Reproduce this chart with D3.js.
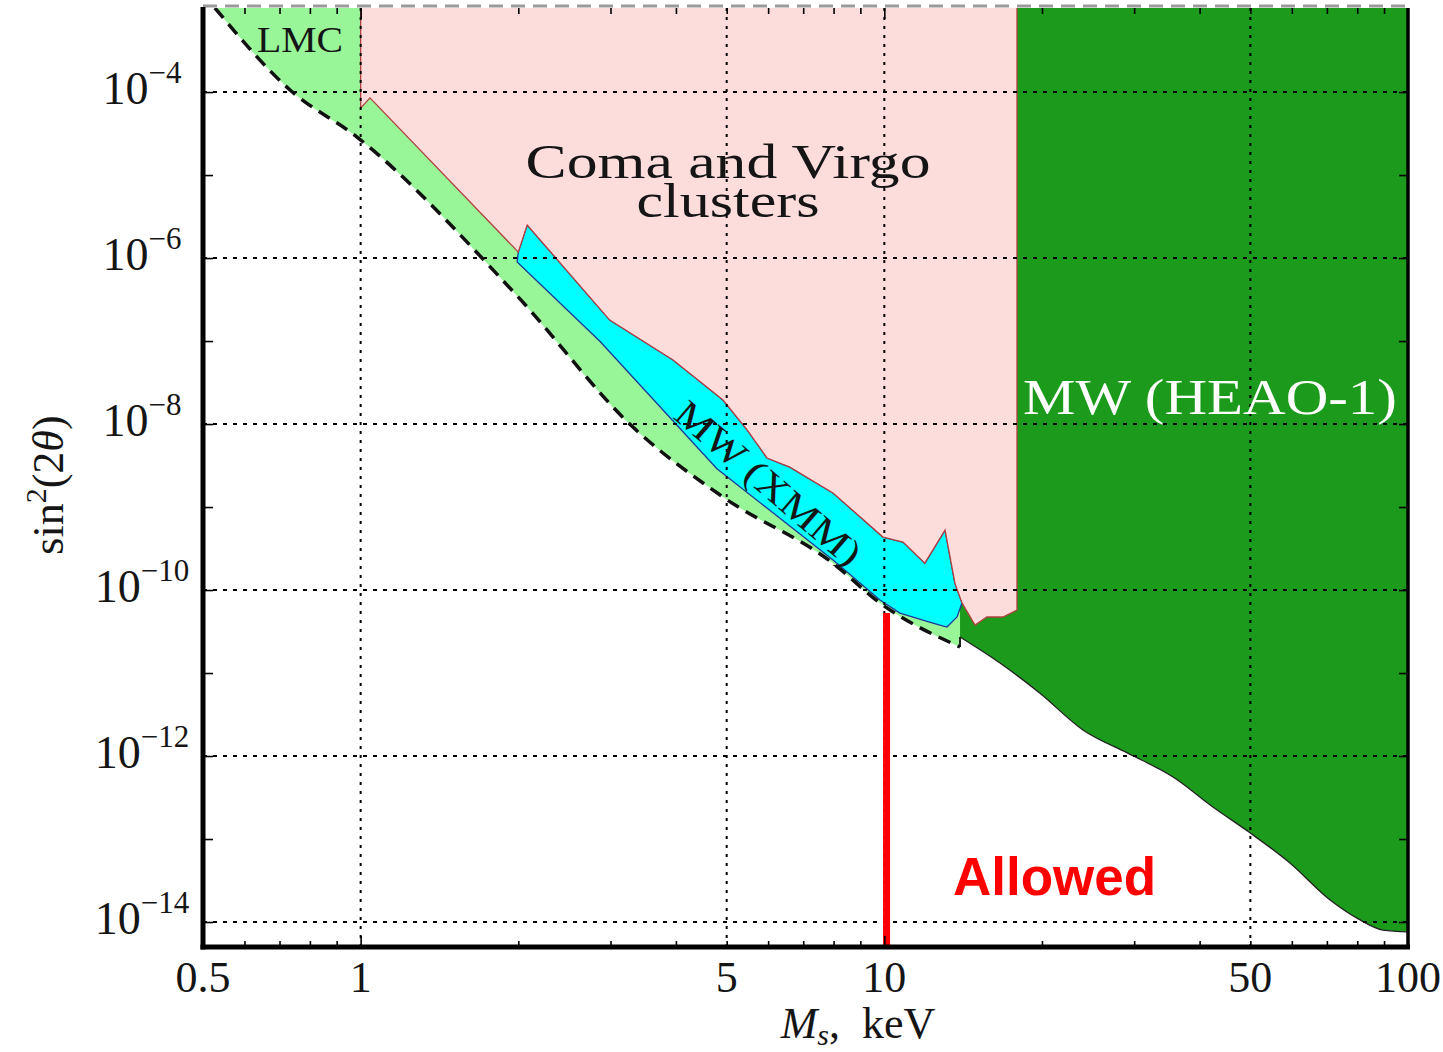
<!DOCTYPE html>
<html>
<head>
<meta charset="utf-8">
<script src="https://cdn.jsdelivr.net/npm/d3@7"></script>
<style>
  body { margin: 0; background: #fff; }
  svg { display: block; }
</style>
</head>
<body>
<svg id="canvas"></svg>
<script>
// boundaries: mass M_s in keV, value = sin^2(2 theta)

// dashed line (lower edge of the light green band)
const dashM = [0.527, 0.733, 0.984, 1.99, 3.31, 4.92, 7.98, 9.81, 13.95];
const dashV = [1.03e-3, 1.06e-4, 2.87e-5, 3.5e-7, 9.2e-9, 1.32e-9, 2.1e-10, 7.0e-11, 2.06e-11];

// Coma and Virgo clusters, lower edge (top is open)
const comaM = [1.0, 1.0, 1.042, 2.0, 2.08, 2.99, 3.95, 4.92, 5.47, 5.97, 6.6, 7.98, 9.94, 10.86, 11.95, 13.06, 13.64, 14.07, 14.9, 15.7, 16.85, 17.92, 17.92];
const comaV = [1e-2, 6.4e-5, 8.5e-5, 1.18e-6, 2.5e-6, 1.79e-7, 5.9e-8, 1.95e-8, 8.5e-9, 3.9e-9, 3.03e-9, 1.48e-9, 4.35e-10, 3.78e-10, 2.11e-10, 5.28e-10, 1.21e-10, 7.0e-11, 3.79e-11, 4.73e-11, 4.73e-11, 5.74e-11, 1e-2];

// MW (XMM) band, upper and lower edges
const xmmUpM = [2.0, 2.08, 2.99, 3.95, 4.92, 5.47, 5.97, 6.6, 7.98, 9.94, 10.86, 11.95, 13.06, 13.64, 14.07];
const xmmUpV = [1.18e-6, 2.5e-6, 1.79e-7, 5.9e-8, 1.95e-8, 8.5e-9, 3.9e-9, 3.03e-9, 1.48e-9, 4.35e-10, 3.78e-10, 2.11e-10, 5.28e-10, 1.21e-10, 7.0e-11];
const xmmLowM = [1.99, 2.86, 4.79, 7.98, 9.81, 10.71, 12.38, 13.17, 13.77];
const xmmLowV = [8.95e-7, 1.0e-7, 2.9e-9, 2.3e-10, 7.58e-11, 5.28e-11, 4.0e-11, 3.58e-11, 4.73e-11];

// MW (HEAO-1) lower edge
const heaoM = [13.95, 16.63, 19.8, 23.95, 29.1, 35.6, 42.4, 50, 59.5, 71, 81, 89.6, 100];
const heaoV = [2.72e-11, 1.32e-11, 5.74e-12, 2.06e-12, 1.09e-12, 5.58e-13, 2.43e-13, 1.18e-13, 5.14e-14, 1.84e-14, 1.06e-14, 8.0e-15, 7.6e-15];

// red line marking 10 keV
const allowedM = 10.1;
const allowedTop = 5.3e-11;

// ticks
const xLabelVals = [0.5, 1, 5, 10, 50, 100];
const xLabels = ["0.5", "1", "5", "10", "50", "100"];
const xMinor = [0.6, 0.7, 0.8, 0.9, 2, 3, 4, 5, 6, 7, 8, 9, 20, 30, 40, 50, 60, 70, 80, 90];
const xMajor = [1, 10];
const xGrid = [1, 5, 10, 50];
const yLabelExp = [-4, -6, -8, -10, -12, -14];
const yTickExp = [-14, -13, -12, -11, -10, -9, -8, -7, -6, -5, -4];

const svg = d3.select("#canvas");
const width = 1443;
const height = 1052;
svg.attr("width", width).attr("height", height);

const marginTop = 8;
const marginRight = 35;
const marginBottom = 105;
const marginLeft = 203;

const x = d3.scaleLog().domain([0.5, 100]).range([marginLeft, width - marginRight]);
const y = d3.scaleLog().domain([5e-15, 1.03e-3]).range([height - marginBottom, marginTop]);

const serif = "'Liberation Serif', 'Times New Roman', serif";
const ink = "#151515";

svg.append("defs").append("clipPath").attr("id", "plot")
    .append("rect")
    .attr("x", marginLeft).attr("y", marginTop)
    .attr("width", width - marginLeft - marginRight)
    .attr("height", height - marginTop - marginBottom);

const plot = svg.append("g").attr("clip-path", "url(#plot)");

const zip = (ms, vs) => ms.map((m, i) => [m, vs[i]]);
const line = d3.line().x(d => x(d[0])).y(d => y(d[1]));
const smooth = d3.line().x(d => x(d[0])).y(d => y(d[1])).curve(d3.curveMonotoneX);

// light green: everything above the dashed line up to 14 keV
const dash = zip(dashM, dashV);
const dashArea = d3.area()
    .x(d => x(d[0]))
    .y0(marginTop - 5)
    .y1(d => y(d[1]))
    .curve(d3.curveMonotoneX);
plot.append("path")
    .attr("d", dashArea(dash))
    .attr("fill", "#98f598");

// dark green HEAO-1
const heao = zip(heaoM, heaoV);
const heaoArea = d3.area()
    .x(d => x(d[0]))
    .y0(marginTop - 5)
    .y1(d => y(d[1]))
    .curve(d3.curveMonotoneX);
plot.append("path")
    .attr("d", heaoArea(heao))
    .attr("fill", "#1b9a1b");
plot.append("path")
    .attr("d", smooth(heao))
    .attr("fill", "none")
    .attr("stroke", "#222")
    .attr("stroke-width", 1.3);
plot.append("line")
    .attr("x1", x(heaoM[0])).attr("x2", x(heaoM[0]))
    .attr("y1", y(heaoV[0])).attr("y2", y(dashV[dashV.length - 1]))
    .attr("stroke", "#222").attr("stroke-width", 2);

// cyan XMM band
const xmm = [...zip(xmmUpM, xmmUpV), ...zip(xmmLowM, xmmLowV).reverse()];
plot.append("path")
    .attr("d", line(xmm) + "Z")
    .attr("fill", "#00ffff")
    .attr("stroke", "#1a3a9a")
    .attr("stroke-width", 1.3);

// pink clusters
plot.append("path")
    .attr("d", line(zip(comaM, comaV)) + "Z")
    .attr("fill", "#fddcdc")
    .attr("stroke", "#b04040")
    .attr("stroke-width", 1.3);

// dotted grid
plot.selectAll(".vgrid")
    .data(xGrid)
    .join("line")
    .attr("x1", d => x(d)).attr("x2", d => x(d))
    .attr("y1", marginTop).attr("y2", height - marginBottom)
    .attr("stroke", "#000")
    .attr("stroke-width", 2)
    .attr("stroke-dasharray", "3 6");

plot.selectAll(".hgrid")
    .data(yLabelExp)
    .join("line")
    .attr("x1", marginLeft).attr("x2", width - marginRight)
    .attr("y1", d => y(10 ** d)).attr("y2", d => y(10 ** d))
    .attr("stroke", "#000")
    .attr("stroke-width", 2)
    .attr("stroke-dasharray", "4 6");

// dashed bound
plot.append("path")
    .attr("d", smooth(dash))
    .attr("fill", "none")
    .attr("stroke", "#111")
    .attr("stroke-width", 3.5)
    .attr("stroke-dasharray", "13 8");

// red marker
plot.append("line")
    .attr("x1", x(allowedM)).attr("x2", x(allowedM))
    .attr("y1", y(allowedTop)).attr("y2", height - marginBottom)
    .attr("stroke", "#ff0000")
    .attr("stroke-width", 7);

// region labels
svg.append("text")
    .attr("x", x(0.634)).attr("y", y(3.03e-4))
    .attr("font-family", serif).attr("font-size", 36).attr("fill", ink)
    .attr("textLength", 86).attr("lengthAdjust", "spacingAndGlyphs")
    .text("LMC");

svg.append("text")
    .attr("x", x(5.03)).attr("y", y(9.2e-6))
    .attr("text-anchor", "middle")
    .attr("font-family", serif).attr("font-size", 49).attr("fill", ink)
    .attr("textLength", 405).attr("lengthAdjust", "spacingAndGlyphs")
    .text("Coma and Virgo");

svg.append("text")
    .attr("x", x(5.03)).attr("y", y(3.1e-6))
    .attr("text-anchor", "middle")
    .attr("font-family", serif).attr("font-size", 49).attr("fill", ink)
    .attr("textLength", 183).attr("lengthAdjust", "spacingAndGlyphs")
    .text("clusters");

svg.append("text")
    .attr("transform", `translate(${x(5.79)},${y(1.48e-9)}) rotate(40.6)`)
    .attr("text-anchor", "middle")
    .attr("font-family", serif).attr("font-size", 38).attr("fill", ink)
    .attr("textLength", 232).attr("lengthAdjust", "spacingAndGlyphs")
    .text("MW (XMM)");

svg.append("text")
    .attr("x", x(18.4)).attr("y", y(1.32e-8))
    .attr("font-family", serif).attr("font-size", 51).attr("fill", "#fff")
    .attr("textLength", 374).attr("lengthAdjust", "spacingAndGlyphs")
    .text("MW (HEAO-1)");

svg.append("text")
    .attr("x", x(13.52)).attr("y", y(2.1e-14))
    .attr("font-family", "'Liberation Sans', Arial, sans-serif")
    .attr("font-weight", "bold").attr("font-size", 53).attr("fill", "#ff0000")
    .text("Allowed");

// ticks (inward) on all four sides
const tickStyle = g => {
    g.select(".domain").remove();
    g.selectAll(".tick line").attr("stroke", "#000").attr("stroke-width", 1.6);
};
svg.append("g")
    .attr("transform", `translate(0,${height - marginBottom})`)
    .call(d3.axisBottom(x).tickValues(xMinor).tickSize(-6).tickFormat(""))
    .call(tickStyle);
svg.append("g")
    .attr("transform", `translate(0,${height - marginBottom})`)
    .call(d3.axisBottom(x).tickValues(xMajor).tickSize(-11).tickFormat(""))
    .call(tickStyle);
svg.append("g")
    .attr("transform", `translate(0,${marginTop})`)
    .call(d3.axisTop(x).tickValues(xMinor).tickSize(-6).tickFormat(""))
    .call(tickStyle);
svg.append("g")
    .attr("transform", `translate(0,${marginTop})`)
    .call(d3.axisTop(x).tickValues(xMajor).tickSize(-11).tickFormat(""))
    .call(tickStyle);
svg.append("g")
    .attr("transform", `translate(${marginLeft},0)`)
    .call(d3.axisLeft(y).tickValues(yTickExp.map(e => 10 ** e)).tickSize(-10).tickFormat(""))
    .call(tickStyle);
svg.append("g")
    .attr("transform", `translate(${width - marginRight},0)`)
    .call(d3.axisRight(y).tickValues(yTickExp.map(e => 10 ** e)).tickSize(-9).tickFormat(""))
    .call(tickStyle);

// frame
const x0 = marginLeft, x1 = width - marginRight;
const y0 = marginTop, y1 = height - marginBottom;
svg.append("line").attr("x1", x0).attr("x2", x1).attr("y1", y0 - 2).attr("y2", y0 - 2)
    .attr("stroke", "#9a9a9a").attr("stroke-width", 3).attr("stroke-dasharray", "14 8");
svg.append("line").attr("x1", x0).attr("x2", x0).attr("y1", y0 - 1).attr("y2", y1 + 2.5)
    .attr("stroke", "#000").attr("stroke-width", 5);
svg.append("line").attr("x1", x0 - 2.5).attr("x2", x1 + 2).attr("y1", y1).attr("y2", y1)
    .attr("stroke", "#000").attr("stroke-width", 5);
svg.append("line").attr("x1", x1).attr("x2", x1).attr("y1", y0).attr("y2", y1)
    .attr("stroke", "#000").attr("stroke-width", 3.5);

// x tick labels
svg.selectAll(".xlab")
    .data(xLabelVals)
    .join("text")
    .attr("x", d => x(d))
    .attr("y", y1 + 45)
    .attr("text-anchor", "middle")
    .attr("font-family", serif).attr("font-size", 44).attr("fill", ink)
    .text((d, i) => xLabels[i]);

// y tick labels 10^-n
yLabelExp.forEach(e => {
    const t = svg.append("text")
        .attr("x", 142)
        .attr("y", y(10 ** e) + 12)
        .attr("text-anchor", "middle")
        .attr("font-family", serif).attr("fill", ink);
    t.append("tspan").attr("font-size", 46).text("10");
    t.append("tspan").attr("font-size", 31).attr("dy", -21).text("\u2212" + Math.abs(e));
});

// axis titles
const xt = svg.append("text")
    .attr("x", 858).attr("y", 1038)
    .attr("text-anchor", "middle")
    .attr("font-family", serif).attr("fill", ink).attr("font-size", 44);
xt.append("tspan").attr("font-style", "italic").text("M");
xt.append("tspan").attr("font-style", "italic").attr("font-size", 30).attr("dy", 7).text("s");
xt.append("tspan").attr("dy", -7).text(",\u00a0\u00a0keV");

const yt = svg.append("text")
    .attr("transform", "translate(63,485) rotate(-90)")
    .attr("text-anchor", "middle")
    .attr("font-family", serif).attr("fill", ink).attr("font-size", 44);
yt.append("tspan").text("sin");
yt.append("tspan").attr("font-size", 30).attr("dy", -17).text("2");
yt.append("tspan").attr("dy", 17).text("(2");
yt.append("tspan").attr("font-style", "italic").text("\u03b8");
yt.append("tspan").text(")");
</script>
</body>
</html>
